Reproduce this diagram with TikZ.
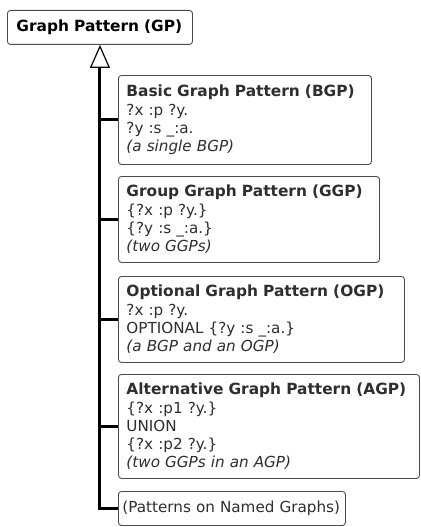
\documentclass[tikz,border=0pt]{standalone}
\usepackage{fontspec}
\setmainfont{DejaVu Sans}
\usetikzlibrary{arrows.meta}

\newcommand{\ptitle}[1]{{\fontsize{15.4}{18}\selectfont\bfseries #1}}

\begin{document}
\begin{tikzpicture}[x=1pt,y=-1pt,
  patbox/.style={draw=black!70, line width=0.9pt, rounded corners=3pt, anchor=north west,
    align=left, inner xsep=8pt, inner ysep=0pt, text=black!82,
    font=\fontsize{15.2}{18}\selectfont},
  spine/.style={draw=black, line width=3pt}]
\useasboundingbox (0,0) rectangle (420,527);
%\draw[step=10,gray,very thin] (0,0) grid (420,527);
\node[patbox, inner xsep=9pt, text width=167pt, minimum height=34pt, text=black] (gp) at (7,10)
  {\ptitle{Graph Pattern (GP)}};
\node[patbox, text width=237pt, minimum height=89pt] (bgp) at (118,75)
  {\ptitle{Basic Graph Pattern (BGP)}\\[1pt] ?x :p ?y.\\ ?y :s \_:a.\\ \textit{(a single BGP)}};
\node[patbox, text width=245pt, minimum height=86pt] (ggp) at (118,176)
  {\ptitle{Group Graph Pattern (GGP)}\\[1pt] \{?x :p ?y.\}\\ \{?y :s \_:a.\}\\ \textit{(two GGPs)}};
\node[patbox, text width=270pt, minimum height=86pt] (ogp) at (118,276)
  {\ptitle{Optional Graph Pattern (OGP)}\\[1pt] ?x :p ?y.\\ OPTIONAL \{?y :s \_:a.\}\\ \textit{(a BGP and an OGP)}};
\node[patbox, text width=285pt, minimum height=104pt] (agp) at (118,374)
  {\ptitle{Alternative Graph Pattern (AGP)}\\[1pt] \{?x :p1 ?y.\}\\ UNION\\ \{?x :p2 ?y.\}\\ \textit{(two GGPs in an AGP)}};
\node[patbox, inner xsep=4pt, text width=219pt, minimum height=34pt] (pat) at (118,491)
  {(Patterns on Named Graphs)};
% spine with open triangle
\draw[spine, -{Triangle[open, length=23pt, width=20pt, line width=1.2pt]}]
  (pat.west) -| (gp.south);
\foreach \b in {bgp,ggp,ogp,agp}
  \draw[spine] (\b.west) -- (\b.west -| gp.south);
\end{tikzpicture}
\end{document}
